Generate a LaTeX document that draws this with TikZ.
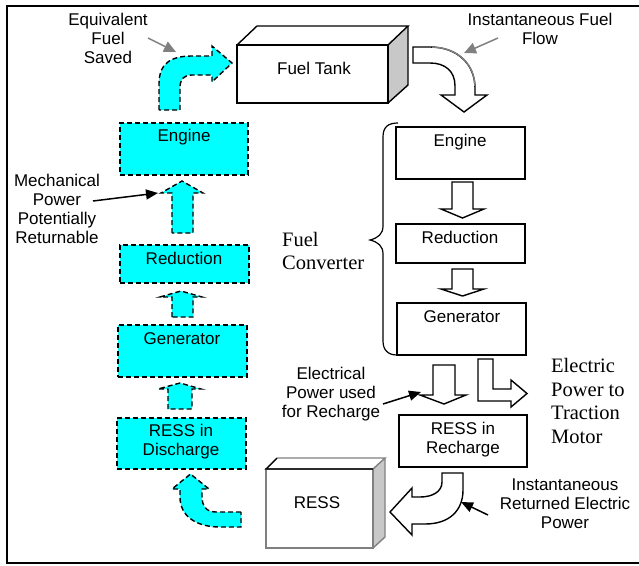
\documentclass[tikz,border=0pt]{standalone}
\usepackage{fontspec}
\setmainfont{Liberation Sans}
\newfontfamily\serifft{Liberation Serif}
\usetikzlibrary{arrows.meta}
\definecolor{facegray}{HTML}{C8C8C8}
\definecolor{ptrgray}{HTML}{808080}
\definecolor{aqua}{HTML}{00FFFF}
\begin{document}
\begin{tikzpicture}[x=1pt,y=-1pt,
  cbox/.style={draw, line width=1.4pt, dash pattern=on 5pt off 3pt, fill=aqua, inner sep=0pt},
  sbox/.style={draw, line width=1.4pt, fill=white, inner sep=0pt},
  lbl/.style={font=\fontsize{17}{19}\selectfont, align=center, inner sep=0pt},
  slbl/.style={font=\serifft\fontsize{20.5}{23.7}\selectfont, align=left, inner sep=0pt},
  carrow/.style={draw, line width=1.4pt, dash pattern=on 5pt off 3pt, fill=aqua, line join=miter},
  harrow/.style={draw, line width=1.4pt, fill=white, line join=miter},
  gptr/.style={draw=ptrgray, line width=1.5pt, -{Triangle[length=12pt,width=11pt]}},
  bptr/.style={draw=black, line width=1.5pt, -{Triangle[length=12pt,width=10pt]}},
]
\useasboundingbox (0,0) rectangle (639,565);
% outer frame
\draw[line width=1.5pt] (639,6) -- (7,6) -- (7,563) -- (639,563);

% ---------- Fuel tank (3D box) ----------
\fill[white] (237,45) -- (257,26) -- (408,26) -- (388,45) -- cycle;
\fill[facegray] (388,45) -- (408,26) -- (408,85) -- (388,103) -- cycle;
\draw[line width=1.4pt, line join=miter] (237,45) rectangle (388,103);
\draw[line width=1.4pt, line join=miter] (237,45) -- (257,26) -- (408,26) -- (388,45);
\draw[line width=1.4pt, line join=miter] (408,26) -- (408,85) -- (388,103);
\node[lbl] (tank) at (314,68) {Fuel Tank};

% ---------- RESS (3D box) ----------
\fill[white] (266,469) -- (277,458) -- (385,458) -- (373,469) -- cycle;
\fill[facegray] (373,469) -- (385,458) -- (385,537) -- (373,548) -- cycle;
\draw[line width=1.4pt, draw=ptrgray, line join=miter] (266,469) rectangle (373,548);
\draw[line width=1.4pt, draw=ptrgray, line join=miter] (277,458) -- (385,458) -- (373,469);
\draw[line width=1.4pt, draw=ptrgray, line join=miter] (385,458) -- (385,537) -- (373,548);
\draw[line width=1.4pt, line join=miter] (277,458) -- (266,469) -- (373,469);
\node[lbl] (ress) at (317,503) {RESS};

% ---------- Left column (dashed cyan) ----------
\node[cbox, minimum width=128, minimum height=52] (lengine) at (184,149) {};
\node[lbl] (lengineT) at (184,137) {Engine};
\node[cbox, minimum width=129, minimum height=38] (lred) at (184.5,264) {};
\node[lbl] (lredT) at (184,258) {Reduction};
\node[cbox, minimum width=129, minimum height=52] (lgen) at (182.5,351) {};
\node[lbl] (lgenT) at (182,339) {Generator};
\node[cbox, minimum width=129, minimum height=51] (ldis) at (181.5,443.5) {};
\node[lbl] (ldisT) at (181,442) {RESS in\\Discharge};

% cyan up arrows
\path[carrow] (172,233) -- (172,193) -- (161,193) -- (182,181) -- (203,193) -- (193,193) -- (193,233) -- cycle;
\path[carrow] (172,317) -- (172,297) -- (160,297) -- (181,291) -- (202,297) -- (193,297) -- (193,317) -- cycle;
\path[carrow] (168,409) -- (168,389) -- (158,389) -- (180,383) -- (201,389) -- (192,389) -- (192,409) -- cycle;

% cyan curved arrow to fuel tank
\path[carrow] (159,110) -- (159,84) .. controls (159,64) and (170,56) .. (192,56) -- (212,56) -- (212,46) -- (232,63) -- (212,82) -- (212,75) -- (192,75) .. controls (184,75) and (180,79) .. (180,88) -- (180,110) -- cycle;

% cyan curved arrow from RESS
\path[carrow] (241,512) -- (216,512) .. controls (206,512) and (202,506) .. (202,496) -- (202,489) -- (209,489) -- (190.5,474) -- (172,489) -- (180,489) -- (180,497) .. controls (180,516) and (196,527) .. (220,527) -- (241,527) -- cycle;

% ---------- Right column (solid) ----------
\node[sbox, minimum width=129, minimum height=52] (rengine) at (460.5,153) {};
\node[lbl] (rengineT) at (460,142) {Engine};
\node[sbox, minimum width=129, minimum height=39] (rred) at (460.5,243.5) {};
\node[lbl] (rredT) at (460,237) {Reduction};
\node[sbox, minimum width=129, minimum height=52] (rgen) at (461.5,329) {};
\node[lbl] (rgenT) at (462,317) {Generator};
\node[sbox, minimum width=128, minimum height=52] (rrech) at (463,441) {};
\node[lbl] (rrechT) at (463,440) {RESS in\\Recharge};

% hollow arrows
\path[harrow] (452,182) -- (452,209) -- (441,209) -- (462.5,218) -- (484,209) -- (473,209) -- (473,182) -- cycle;
\path[harrow] (452,269) -- (452,289) -- (441,289) -- (462.5,296) -- (484,289) -- (473,289) -- (473,269) -- cycle;
\path[harrow] (433,365) -- (433,395) -- (420,395) -- (444,404) -- (466,395) -- (455,395) -- (455,365) -- cycle;
\path[harrow] (478,359) -- (478,401) -- (511,401) -- (511,407) -- (527,393.5) -- (511,380) -- (511,389) -- (493,389) -- (493,359) -- cycle;

% fuel flow arrow
\path[harrow] (413,47) -- (430,47) .. controls (458,47) and (475,65) .. (475,88) -- (475,95) -- (487,95) -- (464,112) -- (441,95) -- (455,95) -- (455,86) .. controls (455,71) and (445,63) .. (430,63) -- (413,63) -- cycle;
\draw[draw=ptrgray, line width=1.4pt] (432,47.2) .. controls (458,47.2) and (474.8,65) .. (474.8,86);

% returned power arrow
\path[harrow] (442,473) -- (442,482) .. controls (442,492) and (432,497) .. (420,497) -- (412,497) -- (412,488) -- (390,512) -- (412,535) -- (412,524) -- (425,524) .. controls (450,524) and (463,510) .. (463,490) -- (463,473) -- cycle;

% brace
\draw[line width=1.2pt] (398,123) .. controls (388,123) and (383,127) .. (383,137) -- (383,226) .. controls (383,234) and (378,238) .. (370,240) .. controls (378,242) and (383,246) .. (383,254) -- (383,341) .. controls (383,350) and (388,355) .. (397,355);

% ---------- labels ----------
\node[lbl] (eqfuel) at (108,38) {Equivalent\\Fuel\\Saved};
\node[lbl] (instfuel) at (540,29) {Instantaneous Fuel\\Flow};
\node[lbl] (mech) at (57,209) {Mechanical\\Power\\Potentially\\Returnable};
\node[lbl] (elrech) at (331,394) {Electrical\\Power used\\for Recharge};
\node[lbl] (instret) at (565,504) {Instantaneous\\Returned Electric\\Power};
\node[slbl, anchor=west] (fuelconv) at (282,251) {Fuel\\Converter};
\node[slbl, anchor=west] (traction) at (551,401) {Electric\\Power to\\Traction\\Motor};

% pointer arrows
\coordinate (eqtip) at (176,52);
\coordinate (fftip) at (464,53);
\coordinate (mechtip) at (158,193);
\coordinate (eltip) at (421,392);
\coordinate (rettip) at (461,502);
\draw[gptr] (148,38) -- (eqtip);
\draw[gptr] (498,38) -- (fftip);
\draw[bptr] (93,201) -- (mechtip);
\draw[bptr] (383,404) -- (eltip);
\draw[bptr] (488,515) -- (rettip);
\end{tikzpicture}
\end{document}
